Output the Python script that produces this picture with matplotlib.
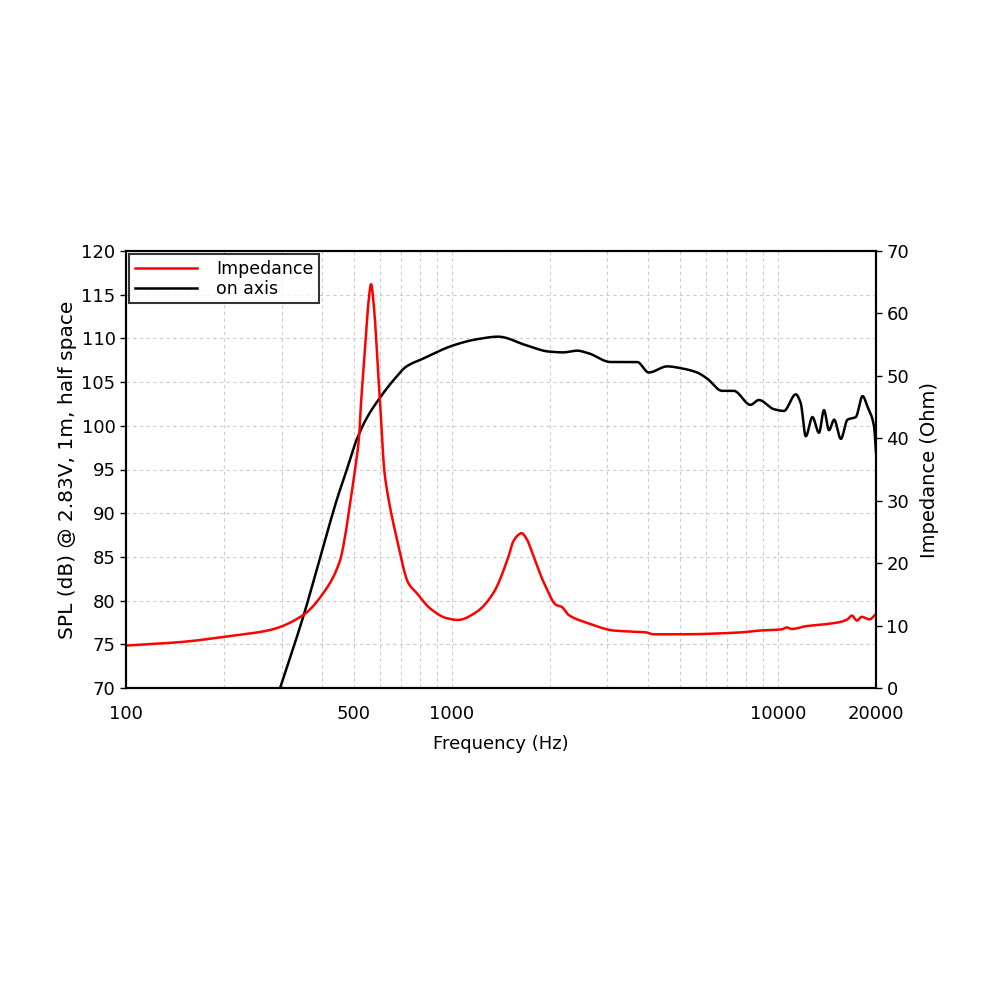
import matplotlib
matplotlib.use("Agg")
import matplotlib.pyplot as plt
from matplotlib.ticker import FixedLocator, NullFormatter, LogLocator
import numpy as np

# Impedance (Ohm) vs frequency
imp_freq = [100, 150, 200, 277, 350, 403, 454, 470, 486, 505, 519, 526, 535, 544, 554, 565, 575, 585,
            593, 602, 610, 620, 632, 679, 735, 780, 855, 961, 1043, 1191, 1339, 1490, 1540, 1596,
            1636, 1690, 1782, 1917, 2090, 2170, 2280, 2610, 3140, 3950, 4150, 5030, 7660, 8780,
            10270, 10640, 11020, 12180, 14180, 15600, 16350, 16870, 17480, 18080, 19100, 20000]
imp_ohm = [6.8, 7.4, 8.2, 9.3, 11.7, 15.2, 20.5, 24.3, 29.3, 35.2, 40.3, 45.6, 50.9, 56.3, 61.6, 64.7, 61.6, 56.3,
           50.9, 45.6, 40.3, 34.9, 31.7, 23.7, 16.8, 15.2, 12.8, 11.2, 10.9, 12.2, 15.2, 21.0, 23.4, 24.5,
           24.8, 24.0, 21.0, 16.8, 13.3, 13.0, 11.7, 10.4, 9.2, 8.9, 8.6, 8.6, 8.9, 9.2,
           9.4, 9.7, 9.45, 9.9, 10.25, 10.6, 11.0, 11.6, 10.8, 11.4, 11.0, 11.85]

# SPL on axis (dB) vs frequency
spl_freq = [297, 350, 403, 443, 475, 510, 548, 601, 661, 726, 817, 1009, 1191, 1385,
            1694, 1977, 2195, 2414, 2624, 3066, 3700, 4018, 4574, 5025, 5651,
            6068, 6745, 7322, 8243, 8740, 9720, 10430, 11350, 11750, 12180, 12760,
            13370, 13850, 14350, 14880, 15600, 16350, 17340, 18190, 18830, 19730, 20000]
spl_db = [70.0, 78.2, 86.2, 91.5, 94.9, 98.4, 100.9, 103.2, 105.2, 106.8, 107.7, 109.2, 109.9, 110.2,
          109.2, 108.5, 108.4, 108.6, 108.3, 107.3, 107.3, 106.1, 106.8, 106.6, 106.1,
          105.4, 104.0, 104.0, 102.4, 102.95, 101.9, 101.7, 103.6, 102.6, 98.8, 101.0,
          99.2, 101.8, 99.5, 100.7, 98.5, 100.7, 101.0, 103.4, 102.2, 99.9, 96.9]

x_ticks = [100, 500, 1000, 10000, 20000]
x_tick_labels = ["100", "500", "1000", "10000", "20000"]
left_ticks = list(range(70, 121, 5))
right_ticks = list(range(0, 71, 10))

plt.rcParams['font.family'] = ['DejaVu Sans']


def pchip(fx, fy, n=2000):
    """Monotone cubic interpolation in log-frequency space."""
    x = np.log10(np.asarray(fx, float))
    y = np.asarray(fy, float)
    h = np.diff(x)
    d = np.diff(y) / h
    m = np.zeros_like(y)
    for k in range(1, len(y) - 1):
        if d[k - 1] * d[k] > 0:
            w1 = 2 * h[k] + h[k - 1]
            w2 = h[k] + 2 * h[k - 1]
            m[k] = (w1 + w2) / (w1 / d[k - 1] + w2 / d[k])
    m[0] = d[0]
    m[-1] = d[-1]
    xs = np.linspace(x[0], x[-1], n)
    idx = np.clip(np.searchsorted(x, xs) - 1, 0, len(x) - 2)
    t = (xs - x[idx]) / h[idx]
    h00 = 2 * t ** 3 - 3 * t ** 2 + 1
    h10 = t ** 3 - 2 * t ** 2 + t
    h01 = -2 * t ** 3 + 3 * t ** 2
    h11 = t ** 3 - t ** 2
    ys = h00 * y[idx] + h10 * h[idx] * m[idx] + h01 * y[idx + 1] + h11 * h[idx] * m[idx + 1]
    return 10 ** xs, ys


fig = plt.figure(figsize=(10, 10), dpi=100)
ax = fig.add_axes([0.126, 0.312, 0.75, 0.437])
ax2 = ax.twinx()

ix, iy = pchip(imp_freq, imp_ohm)
sx, sy = pchip(spl_freq, spl_db)

l1, = ax2.plot(ix, iy, color='#ff0000', lw=1.8, label='Impedance')
l2, = ax.plot(sx, sy, color='black', lw=1.8, label='on axis')

ax.set_xscale('log')
ax.set_xlim(100, 20000)
ax.set_ylim(70, 120)
ax2.set_ylim(0, 70)

ax.xaxis.set_major_locator(FixedLocator(x_ticks))
ax.set_xticklabels(x_tick_labels)
ax.xaxis.set_minor_locator(LogLocator(base=10, subs=np.arange(2, 10)))
ax.xaxis.set_minor_formatter(NullFormatter())
ax.set_yticks(left_ticks)
ax2.set_yticks(right_ticks)

ax.grid(True, which='both', axis='x', linestyle=(0, (3, 3)), color='#cccccc', lw=0.8)
ax.grid(True, which='major', axis='y', linestyle=(0, (3, 3)), color='#cccccc', lw=0.8)

ax.tick_params(axis='both', which='major', labelsize=13, direction='out', length=4, width=1)
ax.tick_params(axis='x', which='minor', length=0)
ax.tick_params(axis='x', which='major', length=0, pad=12)
ax2.tick_params(axis='y', labelsize=13, direction='out', length=4, width=1)

for a in (ax, ax2):
    for s in a.spines.values():
        s.set_linewidth(1.5)

ax.set_xlabel('Frequency (Hz)', fontsize=13, labelpad=9)
ax.set_ylabel('SPL (dB) @ 2.83V, 1m, half space', fontsize=14.5, labelpad=3)
ax2.set_ylabel('Impedance (Ohm)', fontsize=14, labelpad=8)

leg = ax2.legend([l1, l2], ['Impedance', 'on axis'], loc='upper left', fontsize=12.5,
                 frameon=True, fancybox=False, borderaxespad=0.2, handlelength=3.6,
                 handletextpad=1.1, borderpad=0.3, labelspacing=0.15)
leg.get_frame().set_edgecolor('black')
leg.get_frame().set_linewidth(1.5)

fig.savefig('out.png', dpi=100)
